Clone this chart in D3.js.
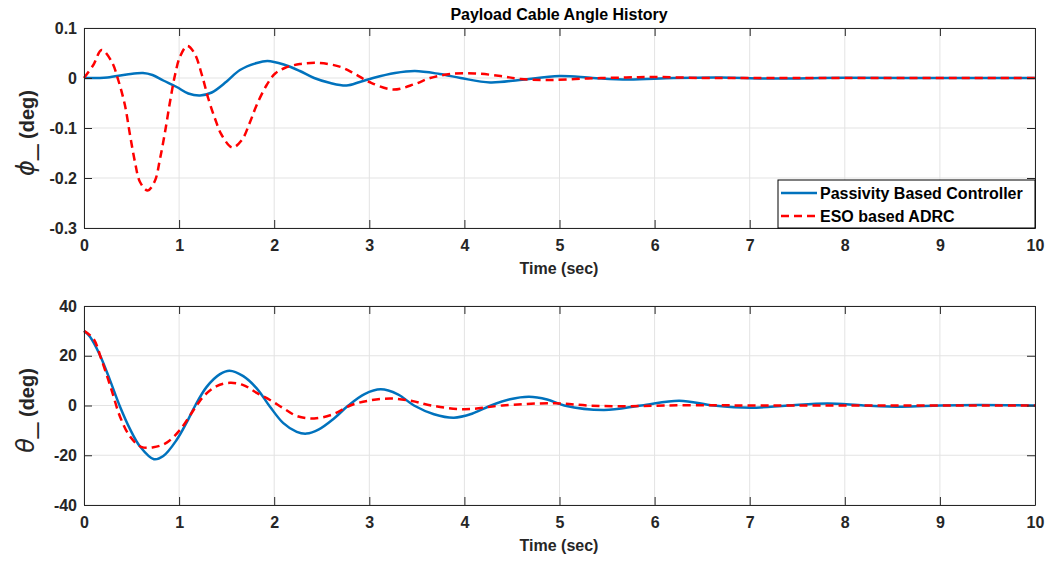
<!DOCTYPE html>
<html>
<head>
<meta charset="utf-8">
<script src="https://cdn.jsdelivr.net/npm/d3@7"></script>
<style>
  body { margin: 0; background: #fff; }
  svg text { font-family: "Liberation Sans", Arial, sans-serif; font-weight: bold; }
</style>
</head>
<body>
<div id="container"></div>
<script>
// time samples (sec) and values
const tPhiPbc = [0, 0.245, 0.45, 0.62, 0.72, 0.834, 0.975, 1.097, 1.22, 1.343, 1.5, 1.64, 1.816, 1.93, 2.1, 2.27, 2.42, 2.59, 2.76, 2.9, 3.04, 3.27, 3.48, 3.74, 3.96, 4.27, 4.58, 5.0, 5.35, 5.72, 6.2, 6.7, 7.2, 8, 9, 10];
const phiPbc  = [0, 0.001, 0.007, 0.01, 0.006, -0.005, -0.018, -0.031, -0.035, -0.029, -0.007, 0.016, 0.03, 0.034, 0.027, 0.014, 0, -0.01, -0.015, -0.008, 0, 0.01, 0.014, 0.008, 0, -0.009, -0.004, 0.004, 0, -0.003, 0, 0.001, -0.001, 0.0005, 0, 0];

const tPhiEso = [0, 0.098, 0.186, 0.29, 0.36, 0.43, 0.484, 0.536, 0.589, 0.67, 0.745, 0.8, 0.852, 0.904, 0.957, 1.01, 1.085, 1.16, 1.24, 1.307, 1.377, 1.448, 1.56, 1.66, 1.746, 1.816, 1.921, 2.01, 2.11, 2.27, 2.48, 2.7, 2.85, 3.0, 3.25, 3.48, 3.64, 3.85, 4.11, 4.38, 4.59, 4.9, 5.3, 5.7, 6.0, 6.5, 7, 8, 10];
const phiEso  = [0, 0.026, 0.056, 0.033, -0.004, -0.054, -0.114, -0.168, -0.208, -0.225, -0.206, -0.161, -0.108, -0.048, 0.006, 0.043, 0.064, 0.05, 0.006, -0.041, -0.081, -0.114, -0.139, -0.124, -0.088, -0.054, -0.014, 0.009, 0.02, 0.028, 0.03, 0.022, 0.008, -0.008, -0.023, -0.012, 0, 0.008, 0.009, 0.004, -0.002, -0.004, -0.001, 0.001, 0.002, 0, 0, 0, 0];

const tThetaPbc = [0, 0.063, 0.168, 0.273, 0.379, 0.484, 0.589, 0.735, 0.834, 0.975, 1.08, 1.17, 1.29, 1.43, 1.53, 1.675, 1.816, 1.956, 2.096, 2.237, 2.34, 2.47, 2.62, 2.78, 2.95, 3.12, 3.3, 3.47, 3.68, 3.89, 4.08, 4.28, 4.48, 4.68, 4.87, 5.05, 5.47, 5.86, 6.26, 6.62, 7.01, 7.4, 7.82, 8.2, 8.6, 9.0, 9.4, 10];
const thetaPbc  = [30, 27.6, 20.2, 10.2, -0.5, -9.5, -16.5, -21.6, -20.3, -13.8, -6.8, 0, 7.5, 12.6, 14, 11.8, 6.9, -0.5, -7.1, -10.6, -11.3, -9.6, -5.5, 0, 4.6, 6.5, 4.5, 0, -3.5, -4.9, -3.3, 0, 2.5, 3.5, 2.4, 0, -1.8, 0, 1.9, 0, -0.9, 0, 0.8, 0, -0.5, 0, 0.2, 0];

const tThetaEso = [0, 0.098, 0.186, 0.29, 0.379, 0.484, 0.6, 0.73, 0.87, 1.01, 1.13, 1.19, 1.27, 1.395, 1.535, 1.675, 1.816, 1.956, 2.096, 2.237, 2.42, 2.62, 2.8, 3.0, 3.23, 3.45, 3.65, 4.0, 4.4, 4.95, 5.3, 5.7, 6.1, 6.6, 7, 8, 10];
const thetaEso  = [30, 26.9, 18.2, 6.2, -4.5, -12.5, -16.6, -16.8, -14.9, -9.8, -3.1, 0.3, 4.2, 7.8, 9.1, 8.2, 5.1, 2.2, -1.1, -4.2, -5.2, -3.5, 0, 2.0, 2.8, 1.8, 0, -1.5, 0, 0.9, 0, -0.3, 0, 0.1, 0, 0, 0];

const xTicks = [0, 1, 2, 3, 4, 5, 6, 7, 8, 9, 10];
const phiTicks = [-0.3, -0.2, -0.1, 0, 0.1];
const thetaTicks = [-40, -20, 0, 20, 40];
const seriesNames = ['Passivity Based Controller', 'ESO based ADRC'];

const width = 1050, height = 561;
const blue = '#0072BD', red = '#FF0000', axisCol = '#262626';

const svg = d3.select('#container').append('svg').attr('width', width).attr('height', height);

const fmtPhi = d => d === 0 ? '0' : d.toFixed(1);
const fmtTheta = d => String(d);

function panel(top, bottom, yDomain, yTicks, fmt, pbcT, pbcV, esoT, esoV, sym) {
  const x = d3.scaleLinear().domain([0, 10]).range([84, 1035]);
  const y = d3.scaleLinear().domain(yDomain).range([bottom, top]);
  const g = svg.append('g');

  // grid
  g.append('g').selectAll('line').data(xTicks).enter().append('line')
    .attr('x1', d => x(d)).attr('x2', d => x(d)).attr('y1', top).attr('y2', bottom)
    .attr('stroke', '#e3e3e3').attr('stroke-width', 1);
  g.append('g').selectAll('line').data(yTicks).enter().append('line')
    .attr('y1', d => y(d)).attr('y2', d => y(d)).attr('x1', 84).attr('x2', 1035)
    .attr('stroke', '#e3e3e3').attr('stroke-width', 1);

  const line = (ts, vs) => d3.line().curve(d3.curveCatmullRom.alpha(0.5))
    .x((d, i) => x(ts[i])).y(d => y(d))(vs);

  g.append('path').attr('d', line(pbcT, pbcV)).attr('fill', 'none')
    .attr('stroke', blue).attr('stroke-width', 2.5);
  g.append('path').attr('d', line(esoT, esoV)).attr('fill', 'none')
    .attr('stroke', red).attr('stroke-width', 2.5).attr('stroke-dasharray', '8,5');

  // axes, MATLAB style inward ticks
  const styleAxis = sel => {
    sel.select('.domain').attr('stroke', axisCol);
    sel.selectAll('.tick line').attr('stroke', axisCol);
    sel.selectAll('text').attr('fill', axisCol).style('font-size', '16px');
  };
  g.append('g').attr('transform', `translate(0,${bottom})`)
    .call(d3.axisBottom(x).tickValues(xTicks).tickSizeInner(-8).tickSizeOuter(0).tickPadding(12).tickFormat(d3.format('d')))
    .call(styleAxis);
  g.append('g').attr('transform', `translate(0,${top})`)
    .call(d3.axisTop(x).tickValues(xTicks).tickSizeInner(-8).tickSizeOuter(0).tickFormat(''))
    .call(styleAxis);
  g.append('g').attr('transform', 'translate(84,0)')
    .call(d3.axisLeft(y).tickValues(yTicks).tickSizeInner(-8).tickSizeOuter(0).tickPadding(7).tickFormat(fmt))
    .call(styleAxis);
  g.append('g').attr('transform', 'translate(1035,0)')
    .call(d3.axisRight(y).tickValues(yTicks).tickSizeInner(-8).tickSizeOuter(0).tickFormat(''))
    .call(styleAxis);
  g.selectAll('.tick text').attr('font-family', null);

  // x label
  g.append('text').attr('x', 559).attr('y', bottom + 46).attr('text-anchor', 'middle')
    .attr('fill', axisCol).style('font-size', '16px').text('Time (sec)');

  // y label
  const cy = (top + bottom) / 2 + 5;
  const yl = g.append('text').attr('transform', `translate(34,${cy}) rotate(-90)`)
    .attr('text-anchor', 'middle').attr('fill', axisCol).style('font-size', '20px');
  yl.append('tspan').style('font-style', 'italic').style('font-weight', 'normal')
    .style('font-family', '"DejaVu Sans", sans-serif').style('font-size', '24px').text(sym);
  yl.append('tspan').attr('dy', -1).style('font-size', '28px').style('font-weight', 'normal').text('_');
  yl.append('tspan').attr('dy', 1).text(' (deg)');

  return { x, y, g };
}

panel(28, 228, [-0.3, 0.1], phiTicks, fmtPhi, tPhiPbc, phiPbc, tPhiEso, phiEso, '\u03D5');
panel(306, 505, [-40, 40], thetaTicks, fmtTheta, tThetaPbc, thetaPbc, tThetaEso, thetaEso, '\u03B8');

// title
svg.append('text').attr('x', 559).attr('y', 20).attr('text-anchor', 'middle')
  .attr('fill', '#000').style('font-size', '16px').text('Payload Cable Angle History');

// legend, lower right of top axes
const lg = svg.append('g');
lg.append('rect').attr('x', 778).attr('y', 180).attr('width', 257).attr('height', 48)
  .attr('fill', '#fff').attr('stroke', '#000').attr('stroke-width', 1);
seriesNames.forEach((name, i) => {
  const yy = 193 + i * 23;
  lg.append('line').attr('x1', 781).attr('x2', 817).attr('y1', yy).attr('y2', yy)
    .attr('stroke', i === 0 ? blue : red).attr('stroke-width', 2.5)
    .attr('stroke-dasharray', i === 0 ? null : '8,5');
  lg.append('text').attr('x', 820).attr('y', yy + 6).attr('fill', '#000')
    .style('font-size', '16px').text(name);
});
</script>
</body>
</html>
